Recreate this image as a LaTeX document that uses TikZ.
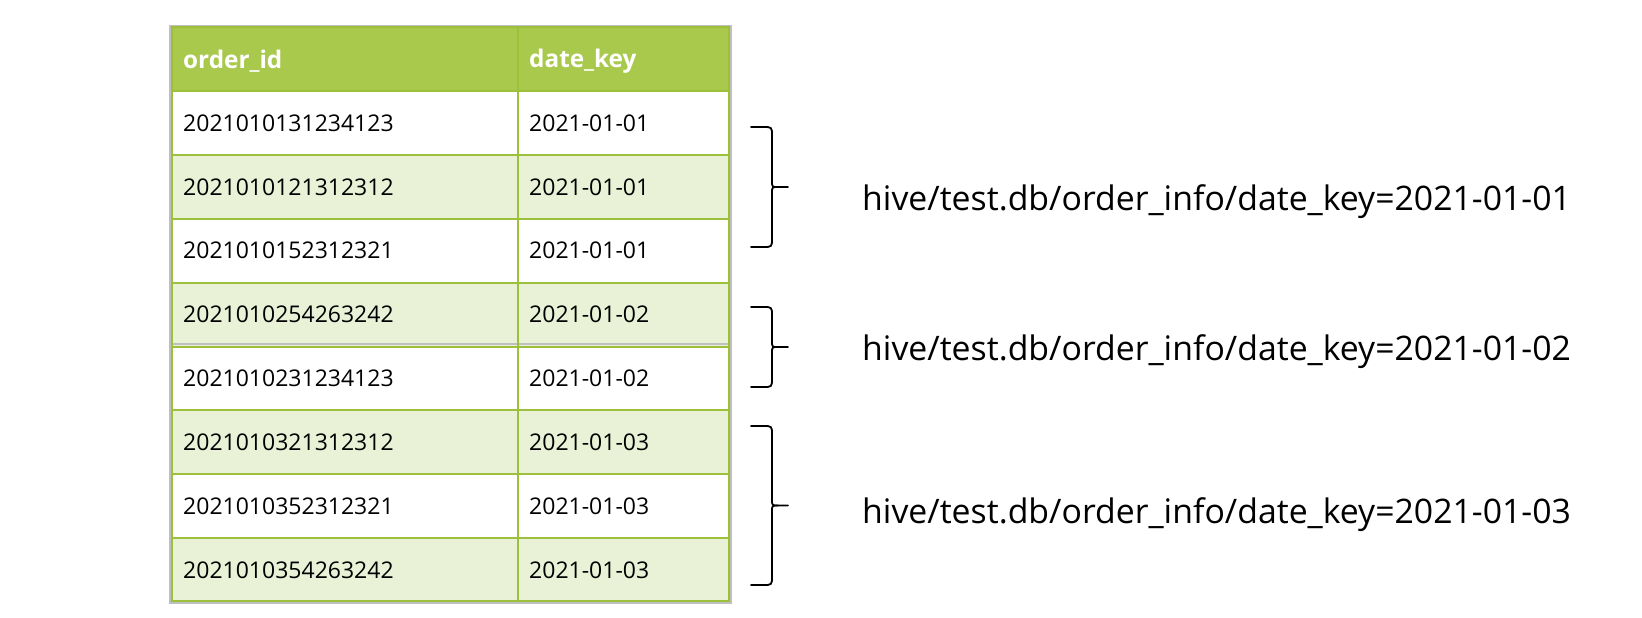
\documentclass[tikz,border=0pt]{standalone}
\usepackage{fontspec}
\setmainfont{Open Sans}
\definecolor{hdrgreen}{HTML}{A9C94D}
\definecolor{linegreen}{HTML}{9DC03A}
\definecolor{lightrow}{HTML}{E9F2D6}
\definecolor{outgray}{HTML}{BFBFBF}
\newcommand{\mybrace}[3]{% #1 top, #2 bottom, #3 name
  \coordinate (#3-top) at (751,#1);
  \coordinate (#3-bot) at (751,#2);
  \coordinate (#3-tip) at (788,{(#1+#2)/2});
  \draw[bracestyle] (#3-top) -- (763,#1) .. controls (772,#1) .. (772,#1+9)
    -- (772,{(#1+#2)/2-6}) .. controls (772,{(#1+#2)/2}) .. (778,{(#1+#2)/2}) -- (#3-tip);
  \draw[bracestyle] (778,{(#1+#2)/2}) .. controls (772,{(#1+#2)/2}) .. (772,{(#1+#2)/2+6})
    -- (772,#2-9) .. controls (772,#2) .. (763,#2) -- (#3-bot);
}
\begin{document}
\begin{tikzpicture}[x=1pt,y=-1pt,
  cell/.style={anchor=west,inner sep=0pt,font=\fontsize{23}{27}\selectfont,text=black},
  hdr/.style={anchor=west,inner sep=0pt,font=\bfseries\fontsize{24.3}{28}\selectfont,text=white},
  lbl/.style={anchor=west,inner sep=0pt,font=\fontsize{33.8}{40}\selectfont,text=black},
  gridline/.style={draw=linegreen,line width=2pt},
  bracestyle/.style={draw=black,line width=1.8pt,line cap=round,line join=round}]
\useasboundingbox (0,0) rectangle (1642,618);
\fill[white] (0,0) rectangle (1642,618);
% outer gray frame
\draw[outgray,line width=2pt] (170,26) rectangle (731,603);
% header
\fill[hdrgreen] (172,27.5) rectangle (729,90);
% row fills
\foreach \k in {2,4,6,8} {
  \fill[lightrow] (172,{27+63.9*\k}) rectangle (729,{27+63.9*(\k+1)});
}
% horizontal lines
\foreach \k in {1,...,8} {
  \draw[gridline] (172,{27+63.9*\k}) -- (729,{27+63.9*\k});
}
\draw[outgray,line width=1.2pt] (172,{27+63.9*5-2.5}) -- (729,{27+63.9*5-2.5});
% vertical lines and green frame
\draw[gridline] (518,27.5) -- (518,601);
\draw[gridline] (172,27.5) rectangle (729,601);
% header text
\node[hdr] (h1) at (183,61) {order\_id};
\node[hdr] (h2) at (529,61) {date\_key};
% cells
\foreach \i/\oid/\dk in {1/2021010131234123/2021-01-01,2/2021010121312312/2021-01-01,3/2021010152312321/2021-01-01,4/2021010254263242/2021-01-02,5/2021010231234123/2021-01-02,6/2021010321312312/2021-01-03,7/2021010352312321/2021-01-03,8/2021010354263242/2021-01-03} {
  \node[cell] (id\i) at (183,{27+63.9*\i+32}) {\oid};
  \node[cell] (dk\i) at (529,{27+63.9*\i+32}) {\dk};
}
% braces
\mybrace{127}{247}{b1}
\mybrace{307}{387}{b2}
\mybrace{426}{585}{b3}
% labels
\node[lbl] (l1) at (862,202) {hive/test.db/order\_info/date\_key=2021-01-01};
\node[lbl] (l2) at (862,352) {hive/test.db/order\_info/date\_key=2021-01-02};
\node[lbl] (l3) at (862,515) {hive/test.db/order\_info/date\_key=2021-01-03};
\end{tikzpicture}
\end{document}
